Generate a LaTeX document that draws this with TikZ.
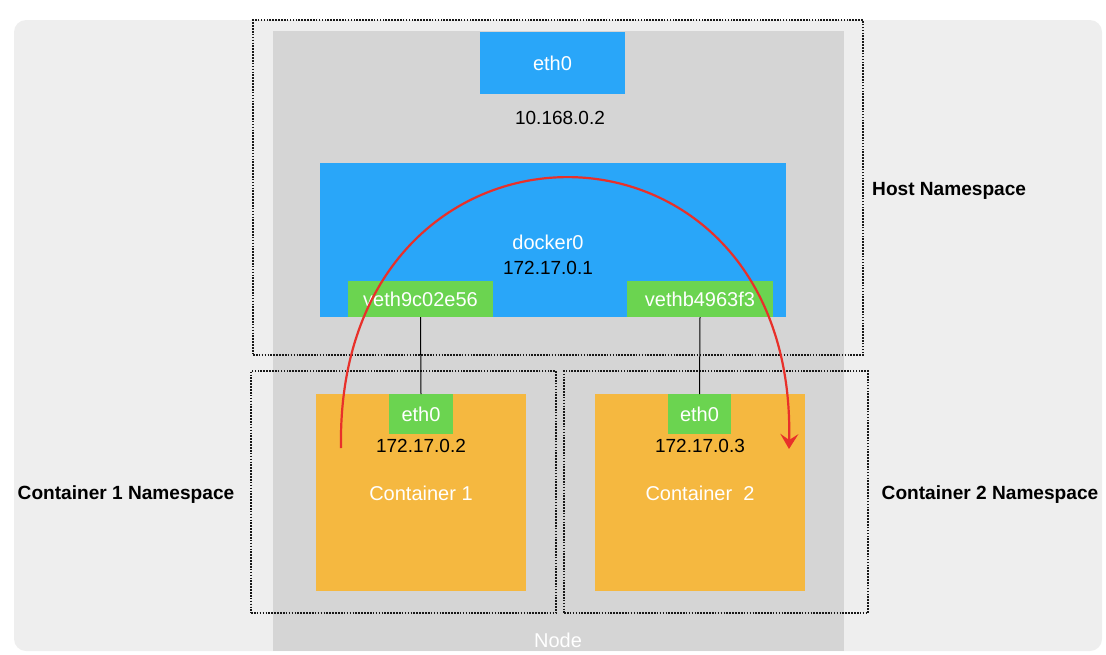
\documentclass[tikz,border=0pt]{standalone}
\usepackage{fontspec}
\setmainfont{Liberation Sans}
\usetikzlibrary{arrows.meta}
\definecolor{outerbg}{HTML}{EEEEEE}
\definecolor{nodebg}{HTML}{D5D5D5}
\definecolor{ifblue}{HTML}{29A6F9}
\definecolor{vethgreen}{HTML}{6BD450}
\definecolor{ctorange}{HTML}{F5B840}
\definecolor{arrowred}{HTML}{E8302A}
\tikzset{
  box/.style={inner sep=0pt, outer sep=0pt, anchor=north west},
  bluebox/.style={box, fill=ifblue},
  greenbox/.style={box, fill=vethgreen},
  orangebox/.style={box, fill=ctorange},
  nsbox/.style={draw=black!90, line width=1.7pt, dash pattern=on 1.6pt off 1.3pt},
  lbl/.style={font=\fontsize{19}{22}\selectfont, inner sep=0pt},
  wlbl/.style={font=\fontsize{20}{23}\selectfont, inner sep=0pt, text=white},
  nslbl/.style={font=\bfseries\fontsize{19.1}{22}\selectfont, inner sep=0pt},
  wire/.style={draw=black, line width=1pt},
}
\begin{document}
\begin{tikzpicture}[x=1pt, y=-1pt]
\useasboundingbox (0,0) rectangle (1106,654);
% outer rounded background
\fill[outerbg, rounded corners=12pt] (14,20) rectangle (1102,651);
% Node
\node[box, fill=nodebg, minimum width=571pt, minimum height=620pt] (node) at (273,31) {};
\node[wlbl] (nodelbl) at (558,640) {Node};
% Host namespace
\node[box, nsbox, minimum width=610pt, minimum height=335pt] (hostns) at (253,20) {};
\node[nslbl, anchor=west] (hostnslbl) at (872,190.5) {Host Namespace};
% eth0 host
\node[bluebox, minimum width=145pt, minimum height=62pt] (heth) at (480,32) {};
\node[wlbl] at (heth.center) {eth0};
\node[lbl] (hip) at (560,118) {10.168.0.2};
% docker0
\node[bluebox, minimum width=466pt, minimum height=154pt] (docker) at (320,163) {};
\node[wlbl] (dockerlbl) at (548,242) {docker0};
\node[lbl] (dockerip) at (548,268) {172.17.0.1};
\node[greenbox, minimum width=145pt, minimum height=36pt] (veth1) at (348,281) {};
\node[wlbl] at (veth1.center) {veth9c02e56};
\node[greenbox, minimum width=146pt, minimum height=36pt] (veth2) at (627,281) {};
\node[wlbl] at (veth2.center) {vethb4963f3};
% container namespaces
\node[box, nsbox, minimum width=305pt, minimum height=242pt] (c1ns) at (251,371) {};
\node[box, nsbox, minimum width=304pt, minimum height=242pt] (c2ns) at (564,371) {};
\node[nslbl] (c1nslbl) at (126,494.5) {Container 1 Namespace};
\node[nslbl] (c2nslbl) at (990,494.5) {Container 2 Namespace};
% containers
\node[orangebox, minimum width=210pt, minimum height=197pt] (c1) at (316,394) {};
\node[orangebox, minimum width=210pt, minimum height=197pt] (c2) at (595,394) {};
\node[greenbox, minimum width=64pt, minimum height=40pt] (c1eth) at (389,394) {};
\node[wlbl] at (c1eth.center) {eth0};
\node[greenbox, minimum width=63pt, minimum height=40pt] (c2eth) at (668,394) {};
\node[wlbl] at (c2eth.center) {eth0};
\node[lbl] (c1ip) at (421,446) {172.17.0.2};
\node[lbl] (c2ip) at (700,446) {172.17.0.3};
\node[wlbl] (c1lbl) at (421,493) {Container 1};
\node[wlbl] (c2lbl) at (700,493) {Container\ \ 2};
% wires
\draw[wire] (veth1.south) -- (c1eth.north);
\draw[wire] (veth2.south) -- (c2eth.north);
% red arrow
\coordinate (astart) at (341,448);
\coordinate (aend) at (789,449);
\draw[arrowred, line width=2.2pt, -{Stealth[length=15pt, width=18pt, inset=6pt]}]
  (astart) .. controls (335,88) and (797,88) .. (aend);
\end{tikzpicture}
\end{document}
